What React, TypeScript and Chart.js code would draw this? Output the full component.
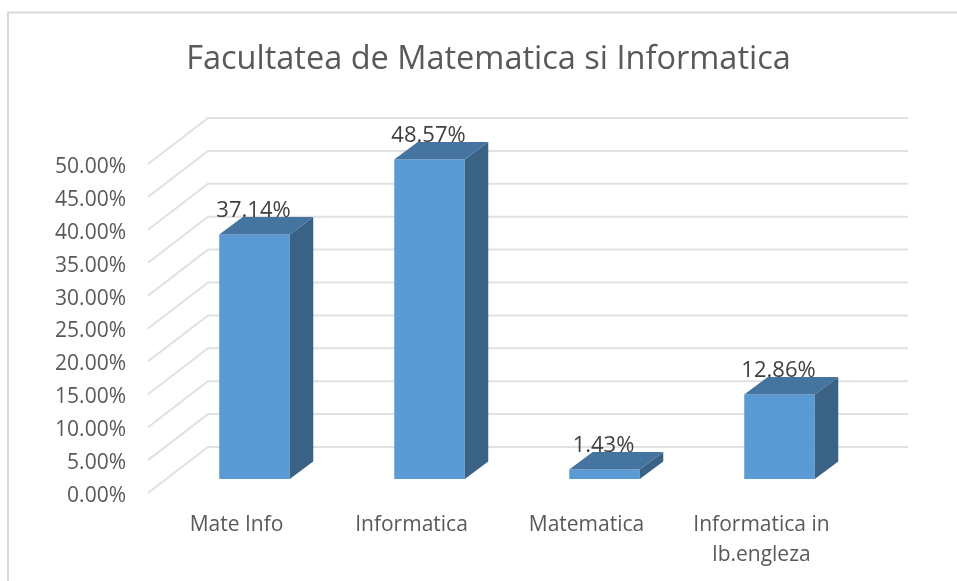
import React, { useEffect, useRef } from "react";
import { Chart, registerables } from "chart.js";

Chart.register(...registerables);

const TITLE = "Facultatea de Matematica si Informatica";
const categories = ["Mate Info", "Informatica", "Matematica", ["Informatica in", "lb.engleza"]];
const shares = [37.14, 48.57, 1.43, 12.86];
const shareLabels = ["37.14%", "48.57%", "1.43%", "12.86%"];
const FONT = "'Open Sans', sans-serif";

const GRID_FRONT = { dx: -19, dy: 14 };
const GRID_BACK = { dx: 41, dy: -32 };
const BAR_DEPTH = { dx: 23.5, dy: -17.5 };

const scene3d = {
  id: "scene3d",
  afterLayout(chart: any) {
    // the title is centred over the whole plot box, not over the canvas
    chart.titleBlock.left = 20;
    chart.titleBlock.right = 957;
  },
  beforeDatasetsDraw(chart: any) {
    const { ctx, scales, chartArea } = chart;
    ctx.save();
    // frame
    ctx.strokeStyle = "#d9d9d9";
    ctx.lineWidth = 2;
    ctx.beginPath();
    ctx.moveTo(8, 581);
    ctx.lineTo(8, 12.5);
    ctx.lineTo(957, 12.5);
    ctx.stroke();
    // gridlines
    ctx.strokeStyle = "#e1e1e1";
    ctx.lineWidth = 2;
    for (const t of scales.y.ticks) {
      const y = scales.y.getPixelForValue(t.value);
      ctx.beginPath();
      ctx.moveTo(chartArea.left + GRID_FRONT.dx, y + GRID_FRONT.dy);
      ctx.lineTo(chartArea.left + GRID_BACK.dx, y + GRID_BACK.dy);
      ctx.lineTo(chartArea.right + GRID_BACK.dx, y + GRID_BACK.dy);
      ctx.stroke();
    }
    // data labels (the bar tops cover them slightly)
    ctx.fillStyle = "#404040";
    ctx.font = `22px ${FONT}`;
    ctx.textAlign = "center";
    ctx.textBaseline = "middle";
    chart.getDatasetMeta(0).data.forEach((bar: any, i: number) => {
      ctx.fillText(shareLabels[i], bar.x - 1, bar.y - 24);
    });
    ctx.restore();
  },
  afterDatasetsDraw(chart: any) {
    const { ctx } = chart;
    ctx.save();
    chart.getDatasetMeta(0).data.forEach((bar: any) => {
      const l = bar.x - bar.width / 2;
      const r = bar.x + bar.width / 2;
      const { dx, dy } = BAR_DEPTH;
      ctx.fillStyle = "#3A6285";
      ctx.beginPath();
      ctx.moveTo(r, bar.y);
      ctx.lineTo(r + dx, bar.y + dy);
      ctx.lineTo(r + dx, bar.base + dy);
      ctx.lineTo(r, bar.base);
      ctx.closePath();
      ctx.fill();
      ctx.fillStyle = "#44749F";
      ctx.beginPath();
      ctx.moveTo(l, bar.y);
      ctx.lineTo(l + dx, bar.y + dy);
      ctx.lineTo(r + dx, bar.y + dy);
      ctx.lineTo(r, bar.y);
      ctx.closePath();
      ctx.fill();
    });
    ctx.restore();
  },
};

export default function App() {
  const ref = useRef<HTMLCanvasElement | null>(null);
  useEffect(() => {
    const chart = new Chart(ref.current as HTMLCanvasElement, {
      type: "bar",
      data: {
        labels: categories as any,
        datasets: [
          {
            data: shares,
            backgroundColor: "#5B9BD5",
            categoryPercentage: 1,
            barPercentage: 0.403,
          },
        ],
      },
      options: {
        animation: false,
        responsive: false,
        layout: { padding: { left: 0, right: 90, top: 40, bottom: 0 } },
        plugins: {
          legend: { display: false },
          tooltip: { enabled: false },
          title: {
            display: true,
            text: TITLE,
            color: "#595959",
            font: { family: FONT, size: 32.5, weight: "normal", lineHeight: 1.2 },
            padding: { top: 0, bottom: 71 },
          },
        },
        scales: {
          x: {
            afterFit: (s: any) => {
              s.height = 102;
            },
            grid: { display: false, drawTicks: false },
            border: { display: false },
            ticks: {
              color: "#595959",
              font: { family: FONT, size: 21, lineHeight: 1.43 },
              padding: 31,
              labelOffset: -18,
              maxRotation: 0,
              autoSkip: false,
            },
          },
          y: {
            min: 0,
            max: 50,
            afterFit: (s: any) => {
              s.width = 167;
            },
            grid: { display: false, drawTicks: false },
            border: { display: false },
            ticks: {
              stepSize: 5,
              color: "#595959",
              font: { family: FONT, size: 21 },
              padding: 41,
              labelOffset: 17,
              callback: (v: any) => Number(v).toFixed(2) + "%",
            },
          },
        },
      },
      plugins: [scene3d],
    } as any);
    return () => chart.destroy();
  }, []);
  return (
    <canvas
      ref={ref}
      width={957}
      height={581}
      style={{ display: "block", position: "absolute", left: 0, top: 0, width: 957, height: 581 }}
    />
  );
}
